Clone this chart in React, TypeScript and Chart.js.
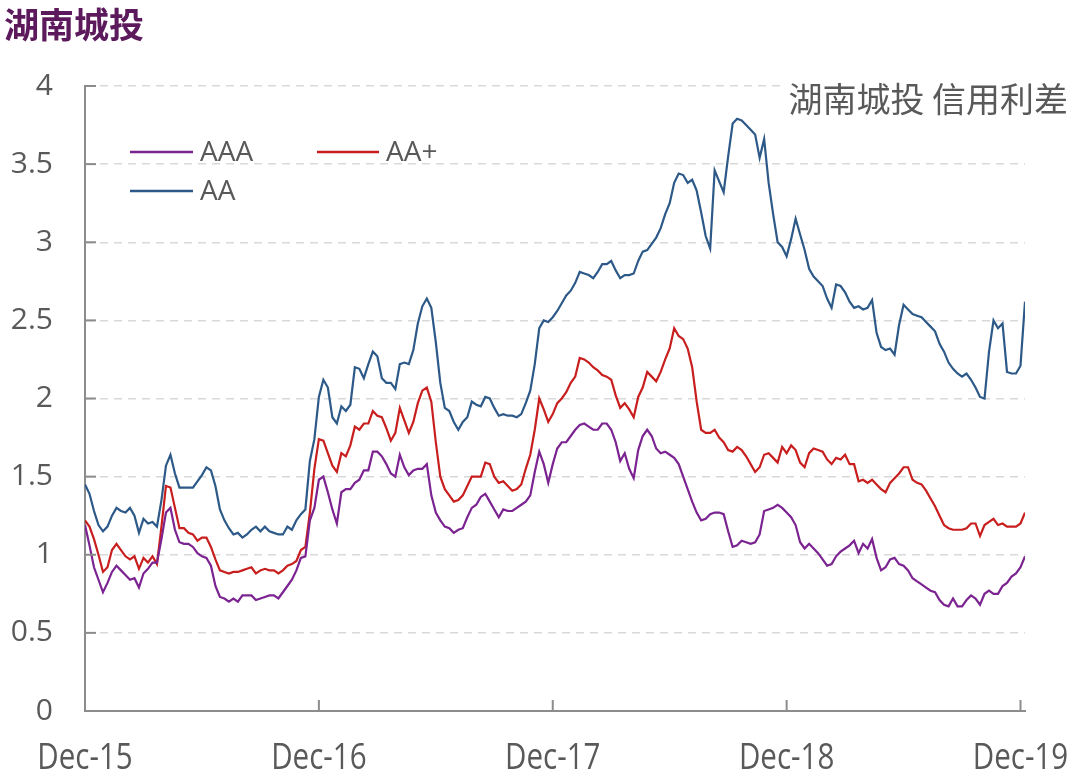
import React, { useEffect, useRef } from "react";
import { Chart, registerables } from "chart.js";

Chart.register(...registerables);

// ---- data (weekly, Dec-15 .. Dec-19) ----
const seriesNames = ["AAA", "AA+", "AA"];

const AAA = [
  1.19,1.06,0.92,0.84,0.76,0.82,0.89,0.93,0.90,0.87,
  0.84,0.85,0.79,0.88,0.91,0.95,0.95,1.10,1.27,1.30,
  1.16,1.08,1.07,1.07,1.05,1.01,0.99,0.98,0.93,0.80,
  0.73,0.72,0.70,0.72,0.70,0.74,0.74,0.74,0.71,0.72,
  0.73,0.74,0.74,0.72,0.76,0.80,0.84,0.90,0.98,0.99,
  1.22,1.30,1.48,1.50,1.40,1.29,1.20,1.40,1.42,1.42,
  1.46,1.48,1.54,1.54,1.66,1.66,1.63,1.58,1.52,1.50,
  1.64,1.56,1.51,1.54,1.55,1.55,1.58,1.38,1.27,1.22,
  1.18,1.17,1.14,1.16,1.17,1.24,1.30,1.32,1.37,1.39,
  1.34,1.29,1.24,1.29,1.28,1.28,1.30,1.32,1.34,1.38,
  1.53,1.66,1.58,1.46,1.58,1.68,1.72,1.72,1.76,1.80,
  1.83,1.84,1.82,1.80,1.80,1.84,1.84,1.80,1.72,1.60,
  1.65,1.55,1.49,1.67,1.76,1.80,1.76,1.68,1.65,1.66,
  1.64,1.62,1.58,1.50,1.42,1.34,1.27,1.22,1.23,1.26,
  1.27,1.27,1.26,1.15,1.05,1.06,1.09,1.08,1.07,1.08,
  1.13,1.28,1.29,1.30,1.32,1.30,1.27,1.24,1.19,1.08,
  1.04,1.07,1.04,1.01,0.97,0.93,0.94,0.99,1.02,1.04,
  1.06,1.09,1.01,1.07,1.04,1.10,0.98,0.90,0.92,0.97,
  0.98,0.94,0.93,0.90,0.85,0.83,0.81,0.79,0.77,0.76,
  0.71,0.68,0.67,0.72,0.67,0.67,0.71,0.74,0.72,0.68,
  0.75,0.77,0.75,0.75,0.80,0.82,0.86,0.88,0.92,0.99,
];

const AAplus = [
  1.22,1.18,1.10,1.00,0.89,0.92,1.03,1.07,1.03,0.99,
  0.97,0.99,0.91,0.98,0.95,0.99,0.94,1.18,1.44,1.43,
  1.30,1.17,1.17,1.14,1.13,1.09,1.11,1.11,1.05,0.97,
  0.90,0.89,0.88,0.89,0.89,0.90,0.91,0.92,0.88,0.90,
  0.91,0.90,0.90,0.88,0.90,0.93,0.94,0.96,1.03,1.05,
  1.27,1.55,1.74,1.73,1.65,1.57,1.53,1.65,1.63,1.70,
  1.82,1.80,1.84,1.84,1.92,1.89,1.88,1.81,1.73,1.78,
  1.94,1.86,1.78,1.85,1.97,2.05,2.07,1.98,1.72,1.50,
  1.42,1.38,1.34,1.35,1.38,1.44,1.50,1.50,1.50,1.59,
  1.58,1.50,1.46,1.47,1.44,1.41,1.42,1.45,1.55,1.64,
  1.80,2.00,1.93,1.85,1.90,1.97,2.00,2.04,2.10,2.14,
  2.26,2.25,2.23,2.20,2.18,2.15,2.14,2.12,2.02,1.94,
  1.97,1.93,1.88,2.01,2.07,2.17,2.14,2.11,2.17,2.25,
  2.32,2.45,2.40,2.38,2.32,2.20,1.98,1.80,1.78,1.78,
  1.80,1.75,1.72,1.67,1.66,1.69,1.67,1.63,1.58,1.53,
  1.56,1.64,1.65,1.62,1.59,1.69,1.65,1.70,1.67,1.59,
  1.56,1.65,1.68,1.67,1.66,1.61,1.58,1.62,1.61,1.64,
  1.58,1.58,1.47,1.48,1.46,1.48,1.45,1.42,1.40,1.46,
  1.49,1.52,1.56,1.56,1.48,1.46,1.45,1.41,1.36,1.31,
  1.25,1.19,1.17,1.16,1.16,1.16,1.17,1.20,1.20,1.12,
  1.19,1.21,1.23,1.19,1.20,1.18,1.18,1.18,1.20,1.27,
];

const AA = [
  1.45,1.39,1.28,1.19,1.15,1.18,1.25,1.30,1.28,1.27,
  1.30,1.25,1.14,1.23,1.20,1.21,1.18,1.35,1.57,1.64,
  1.52,1.43,1.43,1.43,1.43,1.47,1.51,1.56,1.54,1.44,
  1.29,1.22,1.17,1.13,1.14,1.11,1.13,1.16,1.18,1.15,
  1.18,1.15,1.14,1.13,1.13,1.18,1.16,1.22,1.26,1.29,
  1.60,1.74,2.01,2.12,2.07,1.88,1.84,1.95,1.92,1.96,
  2.20,2.19,2.13,2.22,2.30,2.27,2.13,2.10,2.10,2.06,
  2.22,2.23,2.22,2.31,2.48,2.59,2.64,2.58,2.36,2.10,
  1.94,1.92,1.85,1.80,1.85,1.88,1.98,1.96,1.95,2.01,
  2.00,1.94,1.89,1.90,1.89,1.89,1.88,1.90,1.97,2.05,
  2.22,2.45,2.50,2.49,2.52,2.56,2.61,2.66,2.69,2.74,
  2.81,2.80,2.79,2.77,2.81,2.86,2.86,2.88,2.82,2.77,
  2.79,2.79,2.80,2.88,2.94,2.95,2.99,3.03,3.09,3.18,
  3.25,3.38,3.44,3.43,3.38,3.40,3.33,3.19,3.04,2.96,
  3.46,3.39,3.32,3.55,3.76,3.79,3.78,3.75,3.72,3.69,
  3.54,3.66,3.38,3.18,3.00,2.97,2.91,3.02,3.15,3.05,
  2.95,2.83,2.78,2.75,2.72,2.64,2.58,2.73,2.72,2.68,
  2.62,2.58,2.59,2.57,2.58,2.63,2.42,2.33,2.31,2.32,
  2.28,2.47,2.60,2.57,2.54,2.53,2.52,2.49,2.46,2.43,
  2.35,2.30,2.23,2.19,2.16,2.14,2.16,2.12,2.07,2.01,
  2.00,2.30,2.50,2.45,2.48,2.17,2.16,2.16,2.21,2.62,
];

const tickWeeks = [0, 52, 104, 156, 208];
const tickLabels = ["Dec-15", "Dec-16", "Dec-17", "Dec-18", "Dec-19"];
const yTicks = [0, 0.5, 1, 1.5, 2, 2.5, 3, 3.5, 4];

const mainTitle = "湖南城投";
const innerTitle = "湖南城投 信用利差";

// ---- styles ----
const COLORS = ["#7b2390", "#c81e1e", "#2c5987"];
const AXIS_COLOR = "#8c8c8c";
const TEXT_COLOR = "#595959";
const GRID_COLOR = "#d9d9d9";

// legend placement (row/column layout inside the plot)
const legendSlots = [
  { dx: 45, dy: 66, len: 63 },
  { dx: 232, dy: 66, len: 62 },
  { dx: 45, dy: 105, len: 63 },
];

const decorPlugin = {
  id: "decor",
  afterDraw(chart: any) {
    const { ctx, chartArea, scales } = chart;
    const xs = scales.x;
    const ys = scales.y;
    ctx.save();

    // inside tick marks
    ctx.strokeStyle = AXIS_COLOR;
    ctx.lineWidth = 2;
    ys.ticks.forEach((t: any) => {
      const y = ys.getPixelForValue(t.value);
      ctx.beginPath();
      ctx.moveTo(chartArea.left, y);
      ctx.lineTo(chartArea.left + 11, y);
      ctx.stroke();
    });
    xs.ticks.forEach((t: any) => {
      if (t.value === 0) return;
      const x = xs.getPixelForValue(t.value);
      ctx.beginPath();
      ctx.moveTo(x, chartArea.bottom);
      ctx.lineTo(x, chartArea.bottom - 11);
      ctx.stroke();
    });

    // condensed x tick labels
    ctx.font = "36px 'Open Sans'";
    ctx.fillStyle = TEXT_COLOR;
    ctx.textAlign = "center";
    ctx.textBaseline = "alphabetic";
    xs.ticks.forEach((t: any) => {
      const k = tickWeeks.indexOf(Number(t.value));
      if (k < 0) return;
      const x = xs.getPixelForValue(t.value);
      ctx.save();
      ctx.translate(x, chartArea.bottom + 58);
      ctx.scale(0.82, 1);
      ctx.fillText(tickLabels[k], 0, 0);
      ctx.restore();
    });

    // legend
    ctx.font = "28px 'Open Sans'";
    ctx.textBaseline = "middle";
    ctx.textAlign = "left";
    chart.data.datasets.forEach((ds: any, i: number) => {
      const s = legendSlots[i];
      const x0 = chartArea.left + s.dx;
      const y0 = chartArea.top + s.dy;
      ctx.strokeStyle = ds.borderColor;
      ctx.lineWidth = 2.5;
      ctx.beginPath();
      ctx.moveTo(x0, y0);
      ctx.lineTo(x0 + s.len, y0);
      ctx.stroke();
      ctx.fillStyle = TEXT_COLOR;
      ctx.fillText(ds.label, x0 + s.len + 7, y0 + 1);
    });

    // inner title with white backing
    ctx.font = "34px 'Noto Sans CJK SC'";
    const w = ctx.measureText(innerTitle).width;
    ctx.fillStyle = "#ffffff";
    ctx.fillRect(chart.width - 12 - w - 6, chartArea.top - 8, w + 18, 44);
    ctx.fillStyle = TEXT_COLOR;
    ctx.textAlign = "right";
    ctx.fillText(innerTitle, chart.width - 12, chartArea.top + 13);

    // main title
    ctx.font = "bold 35px 'Noto Sans CJK SC'";
    ctx.fillStyle = "#5c1a5c";
    ctx.textAlign = "left";
    ctx.fillText(mainTitle, 4, 25);

    ctx.restore();
  },
};

export default function App() {
  const canvasRef = useRef<HTMLCanvasElement | null>(null);

  useEffect(() => {
    if (!canvasRef.current) return;
    const weekIndex = AA.map((_, i) => i);
    const seriesValues = [AAA, AAplus, AA];
    const chart = new Chart(canvasRef.current, {
      type: "line",
      data: {
        labels: weekIndex,
        datasets: seriesValues.map((vals, i) => ({
          label: seriesNames[i],
          data: vals,
          borderColor: COLORS[i],
          backgroundColor: COLORS[i],
          borderWidth: 2.2,
          pointRadius: 0,
          tension: 0,
          fill: false,
        })),
      },
      options: {
        animation: false,
        responsive: true,
        maintainAspectRatio: false,
        layout: { padding: { top: 86, right: 55, left: 0, bottom: 0 } },
        plugins: {
          legend: { display: false },
          tooltip: { enabled: false },
          title: { display: false },
        },
        scales: {
          x: {
            type: "linear",
            min: 0,
            max: 209,
            afterBuildTicks: (s: any) => {
              s.ticks = tickWeeks.map((v) => ({ value: v }));
            },
            afterFit: (s: any) => {
              s.height = 68;
              s.paddingLeft = 0;
              s.paddingRight = 0;
            },
            ticks: {
              autoSkip: false,
              maxRotation: 0,
              padding: 22,
              color: "rgba(0,0,0,0)",
              font: { family: "'Open Sans', sans-serif", size: 30 },
              callback: (v: any) => {
                const k = tickWeeks.indexOf(Number(v));
                return k >= 0 ? tickLabels[k] : "";
              },
            },
            grid: { display: false, drawTicks: false },
            border: { display: true, color: AXIS_COLOR, width: 2 },
          },
          y: {
            type: "linear",
            min: 0,
            max: 4,
            afterBuildTicks: (s: any) => {
              s.ticks = yTicks.map((v) => ({ value: v }));
            },
            afterFit: (s: any) => {
              s.width = 85;
              s.paddingTop = 0;
              s.paddingBottom = 0;
            },
            ticks: {
              padding: 32,
              color: TEXT_COLOR,
              font: { family: "'Open Sans', sans-serif", size: 30 },
              callback: (v: any) => String(v),
            },
            grid: { color: GRID_COLOR, lineWidth: 1.5, drawTicks: false },
            border: { display: true, color: AXIS_COLOR, width: 2, dash: [8, 6] },
          },
        },
      },
      plugins: [decorPlugin],
    });
    return () => chart.destroy();
  }, []);

  return (
    <div style={{ position: "absolute", left: 0, top: 0, width: 1080, height: 779, background: "#fff" }}>
      <canvas ref={canvasRef} />
    </div>
  );
}
